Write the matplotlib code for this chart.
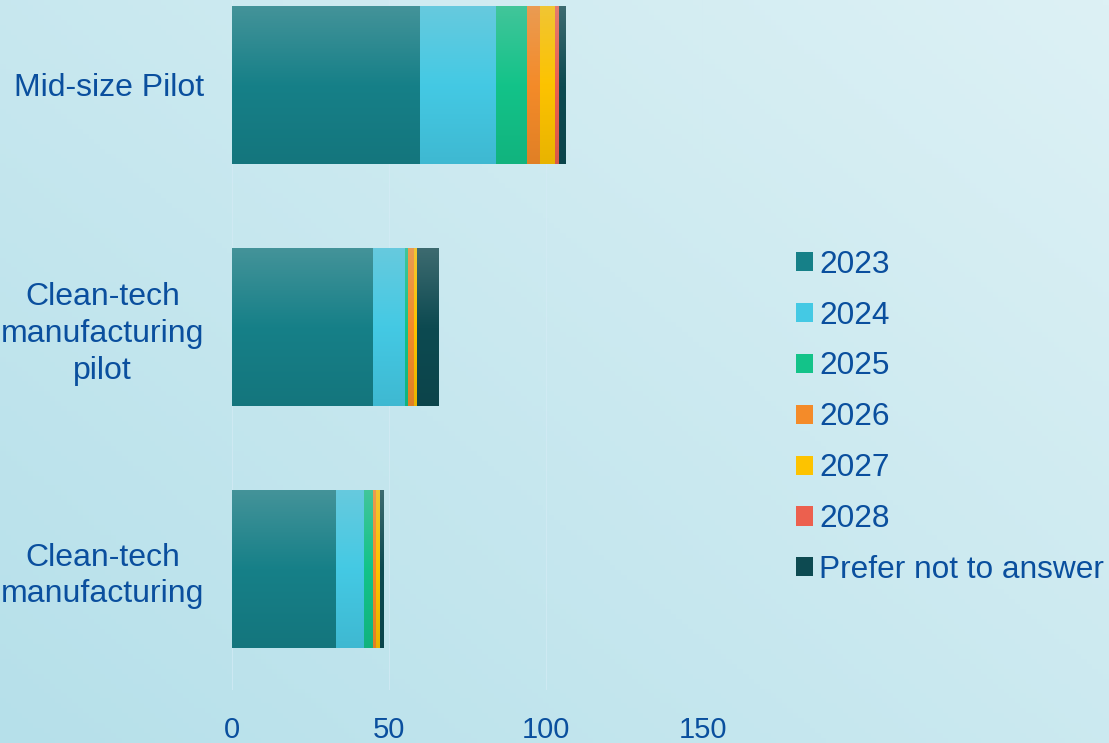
import numpy as np
import matplotlib
matplotlib.use('Agg')
import matplotlib.pyplot as plt
from matplotlib.colors import to_rgb

matplotlib.rcParams.update({'font.family': ['Liberation Sans', 'DejaVu Sans'], 'font.size': 22})

categories = ['Mid-size Pilot', 'Clean-tech\nmanufacturing\npilot', 'Clean-tech\nmanufacturing']
series = ['2023', '2024', '2025', '2026', '2027', '2028', 'Prefer not to answer']
values = {
    '2023': [60, 45, 33],
    '2024': [24, 10, 9],
    '2025': [10, 1, 3],
    '2026': [4, 2, 1],
    '2027': [5, 1, 1],
    '2028': [1, 0, 0],
    'Prefer not to answer': [2, 7, 1],
}
colors = ['#168088', '#44c9e4', '#13c389', '#f48b29', '#fdc300', '#ec604e', '#0d4a51']
xticks = [0, 50, 100, 150]

txt = '#0a4f9e'
W, H = 1109, 743
fig = plt.figure(figsize=(W / 100, H / 100), dpi=100)

# background gradient
bg = fig.add_axes([0, 0, 1, 1], zorder=-5)
gx, gy = np.meshgrid(np.linspace(0, 1, 200), np.linspace(0, 1, 150))
t = np.clip(0.55 * gx + 0.45 * (1 - gy), 0, 1)[..., None]
c0 = np.array(to_rgb('#b6e0ea'))
c1 = np.array(to_rgb('#ddf1f5'))
bg.imshow(c0 * (1 - t) + c1 * t, aspect='auto', extent=(0, 1, 0, 1), origin='upper')
bg.axis('off')

ax = fig.add_axes([232 / W, 1 - 690 / H, (703 - 232) / W, (690 + 36) / H])
ax.set_facecolor('none')

y = np.arange(len(categories))
bar_h = 0.65
left = np.zeros(len(categories))


def shade(col, n=64):
    base = np.array(to_rgb(col))
    top = base * 0.75 + 0.8 * 0.25
    bot = base * 0.92
    out = []
    for f in np.linspace(0, 1, n):
        if f < 0.5:
            out.append(top + (base - top) * (f / 0.5))
        else:
            out.append(base + (bot - base) * ((f - 0.5) / 0.5))
    return np.array(out)[:, None, :]


for s, col in zip(series, colors):
    vals = np.array(values[s], dtype=float)
    bars = ax.barh(y, vals, left=left, height=bar_h, color=col, label=s, zorder=2, lw=0)
    for b in bars:
        if b.get_width() <= 0:
            continue
        x0, y0 = b.get_x(), b.get_y()
        ax.imshow(shade(col), aspect='auto', origin='upper', zorder=3,
                  extent=(x0, x0 + b.get_width(), y0 + bar_h, y0))
    left += vals

ax.set_xlim(0, 150)
ax.set_ylim(len(categories) - 0.5, -0.5)
ax.set_yticks(y)
ax.set_yticklabels(categories, multialignment='center', linespacing=1.3)
ax.set_xticks(xticks)
ax.tick_params(length=0, colors=txt, labelsize=21)
ax.tick_params(axis='y', pad=20, labelsize=23)
ax.tick_params(axis='x', pad=19)
ax.grid(axis='x', color='#d4ebf5', lw=0.8, alpha=0.7, zorder=0)
for sp in ax.spines.values():
    sp.set_visible(False)

leg = ax.legend(loc='upper left', bbox_to_anchor=(783 / W, 1 - 237 / H), bbox_transform=fig.transFigure,
                frameon=False, fontsize=22.8, handlelength=0.55, handleheight=0.55,
                handletextpad=0.2, labelspacing=0.66, borderaxespad=0)
for tx in leg.get_texts():
    tx.set_color(txt)

fig.savefig('out.png', dpi=100)
